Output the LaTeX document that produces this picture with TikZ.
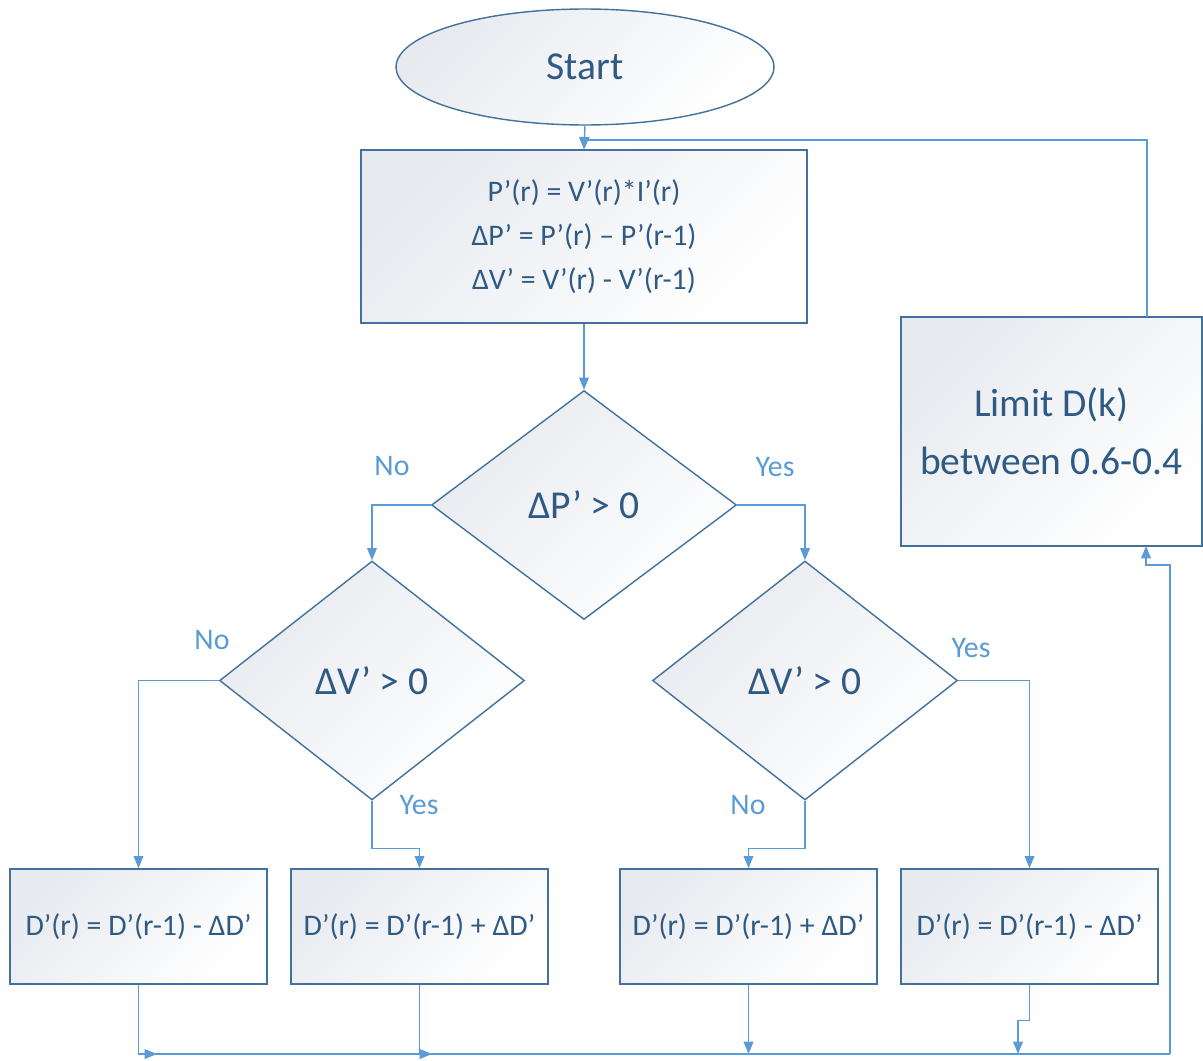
\documentclass[tikz,border=0pt]{standalone}
\usepackage{fontspec}
\setmainfont{Carlito}
\usepackage{tikz}
\usetikzlibrary{arrows.meta,shapes.geometric}

\definecolor{txtblue}{HTML}{2F5A84}
\definecolor{lineblue}{HTML}{5B9BD5}
\definecolor{edgeblue}{HTML}{41719C}
\definecolor{shadegray}{HTML}{E7EAEF}

\tikzset{
  shapefill/.style={draw=edgeblue, line width=0.8pt, top color=shadegray, bottom color=white, shading angle=45, text=txtblue, inner sep=0pt},
  procbox/.style={shapefill, rectangle, font=\fontsize{17}{25}\selectfont, align=center},
  decision/.style={shapefill, diamond, minimum width=6.1cm, minimum height=4.58cm, font=\fontsize{22.5}{30}\selectfont},
  answer/.style={text=lineblue, font=\fontsize{17}{20}\selectfont},
  flow/.style={draw=lineblue, line width=0.8pt, ->},
  bus/.style={draw=lineblue, line width=1.6pt},
  >={Triangle[length=7pt,width=5.5pt]}
}

\begin{document}
\begin{tikzpicture}[x=0.02cm, y=-0.02cm]
        \useasboundingbox (0,0) rectangle (1203,1061);

        % start and first computation
        \node[shapefill, ellipse, minimum width=7.56cm, minimum height=2.32cm, font=\fontsize{22.5}{30}\selectfont] (start) at (585,67) {Start};
        \node[procbox, minimum width=8.92cm, minimum height=3.46cm] (calc) at (584,236.5) {P’(r) = V’(r)*I’(r)\\ΔP’ = P’(r) – P’(r-1)\\ΔV’ = V’(r) - V’(r-1)};
        \coordinate (loopin) at (584,140);

        % decisions
        \node[decision] (dP) at (584,505) {ΔP’ > 0};
        \node[decision, minimum height=4.78cm] (dVl) at (372,680.5) {ΔV’ > 0};
        \node[decision, minimum height=4.78cm] (dVr) at (805,680.5) {ΔV’ > 0};

        % duty cycle updates
        \node[procbox, minimum width=5.14cm, minimum height=2.3cm] (decA) at (138.5,926.5) {D’(r) = D’(r-1) - ΔD’};
        \node[procbox, minimum width=5.14cm, minimum height=2.3cm] (incA) at (419.5,926.5) {D’(r) = D’(r-1) + ΔD’};
        \node[procbox, minimum width=5.14cm, minimum height=2.3cm] (incB) at (748.5,926.5) {D’(r) = D’(r-1) + ΔD’};
        \node[procbox, minimum width=5.14cm, minimum height=2.3cm] (decB) at (1029.5,926.5) {D’(r) = D’(r-1) - ΔD’};

        % limiter
        \node[procbox, minimum width=6.02cm, minimum height=4.58cm, font=\fontsize{22.5}{33}\selectfont] (limit) at (1051.5,431.5) {Limit D(k)\\between 0.6-0.4};
        \coordinate (limitout) at (1147,317);
        \coordinate (limitin) at (1146,546);

        % bottom collector
        \coordinate (busL) at (138,1054);
        \coordinate (busR) at (1170,1054);
        \coordinate (busA) at (157,1054);
        \coordinate (busB) at (432,1054);
        \coordinate (busD) at (1018,1054);

        \draw[flow] (start.south) -- (calc.north);
        \draw[flow] (limitout) |- (loopin) -- (calc.north);
        \draw[flow] (calc.south) -- (dP.north);

        \draw[flow] (dP.west) -| (dVl.north);
        \draw[flow] (dP.east) -| (dVr.north);
        \node[answer] (noP) at (392,466) {No};
        \node[answer] (yesP) at (775,467) {Yes};

        \draw[flow] (dVl.west) -| (decA.north);
        \draw[flow] (dVl.south) -- ++(0,48) -| (incA.north);
        \node[answer] (noVl) at (212,640) {No};
        \node[answer] (yesVl) at (419,805) {Yes};

        \draw[flow] (dVr.south) -- ++(0,48) -| (incB.north);
        \draw[flow] (dVr.east) -| (decB.north);
        \node[answer] (noVr) at (748,805) {No};
        \node[answer] (yesVr) at (971,648) {Yes};

        \draw[flow] (decA.south) |- (busA);
        \draw[flow] (incA.south) |- (busB);
        \draw[flow] (incB.south) -- (incB.south |- busL);
        \draw[flow] (decB.south) -- ++(0,36) -| (busD);

        \draw[bus] (busL) -- (busR);
        \draw[flow] (busR) -- ++(0,-489) -- ++(-24,0) -- (limitin);
    \end{tikzpicture}
\end{document}
